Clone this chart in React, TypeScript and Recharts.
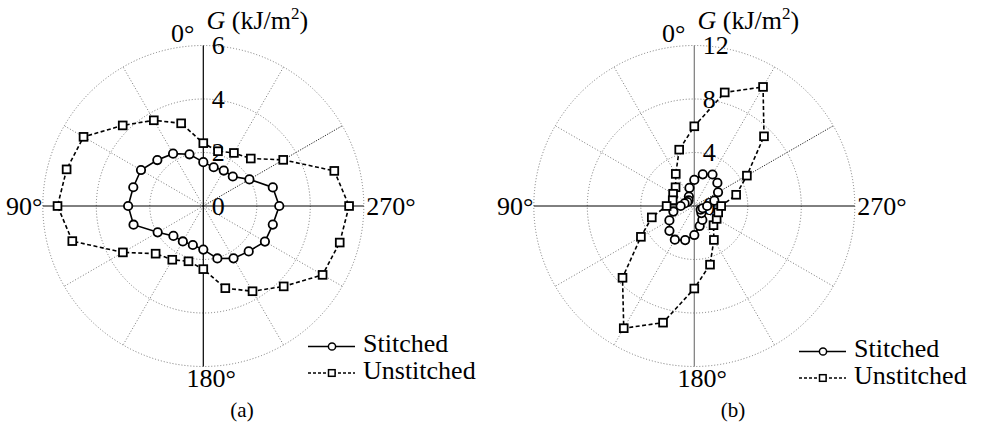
import {
  Legend,
  PolarAngleAxis,
  PolarGrid,
  PolarRadiusAxis,
  Radar,
  RadarChart,
} from "recharts";

// crack growth direction (deg), 0° at top, counter-clockwise
const angles = [0, 15, 30, 45, 60, 75, 90, 105, 120, 135, 150, 165, 180, 195, 210, 225, 240, 255, 270, 285, 300, 315, 330, 345];

// panel (a), G in kJ/m2
const stitchedA = [2.0, 2.26, 2.43, 2.69, 2.71, 2.81, 2.7, 1.97, 1.58, 1.53, 1.51, 1.63, 2.03, 2.26, 2.4, 2.66, 2.69, 2.84, 2.69, 1.99, 1.56, 1.53, 1.5, 1.64];
const unstitchedA = [3.2, 3.7, 4.26, 5.17, 5.29, 5.45, 5.07, 3.47, 2.52, 2.32, 2.14, 2.36, 3.18, 3.68, 4.25, 5.15, 5.28, 5.45, 5.07, 3.45, 2.51, 2.29, 2.12, 2.35];

// panel (b)
const stitchedB = [1.4, 0.81, 0.6, 0.6, 0.75, 1.02, 1.62, 2.15, 2.63, 2.91, 2.64, 2.17, 1.55, 1.2, 0.75, 0.55, 0.65, 0.96, 1.55, 2.05, 2.44, 2.72, 2.45, 1.95];
const unstitchedB = [4.36, 2.77, 1.98, 1.83, 1.67, 2.07, 3.29, 4.61, 7.59, 10.55, 9.03, 6.17, 4.54, 2.93, 2.03, 1.93, 1.85, 2.01, 3.24, 4.54, 7.37, 10.28, 8.79, 5.96];

const angleLabels = [0, 90, 180, 270];

const W = 491;
const H = 429;
const CX = 203.3;
const CY = 206;
const R = 160.5;
const FONT = "Liberation Serif, DejaVu Serif, serif";

// label placement around the circle, relative to the centre
const LABEL_POS: Record<number, { dx: number; dy: number; anchor: "start" | "middle" | "end" }> = {
  0: { dx: -9, dy: -164.5, anchor: "end" },
  90: { dx: -161, dy: 8.5, anchor: "end" },
  180: { dx: 8, dy: 181, anchor: "middle" },
  270: { dx: 163, dy: 8.5, anchor: "start" },
};

// recharts angles: 90 = top, counter-clockwise
const lightSpokes = [120, 150, 210, 240, 300, 330, 420];
const darkSpoke = [390];

const txt = { fontFamily: FONT };

function AngleTick(props: any) {
  const v = Number(props.payload?.value);
  const pos = LABEL_POS[v];
  if (!angleLabels.includes(v) || !pos) return <g />;
  return (
    <text x={CX + pos.dx} y={CY + pos.dy} textAnchor={pos.anchor} fontSize={26} style={txt} fill="#000">
      {v}°
    </text>
  );
}

function RadiusTick(props: any) {
  const { x, y, payload } = props;
  return (
    <text x={x + 8.5} y={y + 8.5} fontSize={26} style={txt} fill="#000">
      {payload.value}
    </text>
  );
}

function CircleDot(props: any) {
  const { cx, cy, index } = props;
  return <circle key={`c${index}`} cx={cx} cy={cy} r={4.2} fill="#fff" stroke="#000" strokeWidth={1.8} />;
}

function SquareDot(props: any) {
  const { cx, cy, index } = props;
  return <rect key={`s${index}`} x={cx - 3.9} y={cy - 3.9} width={7.8} height={7.8} fill="#fff" stroke="#000" strokeWidth={1.8} />;
}

function LegendBox({ payload }: any) {
  const items = payload ?? [];
  return (
    <svg width={180} height={56} style={{ overflow: "visible" }}>
      {items.map((p: any, i: number) => {
        const y = 13.5 + i * 26.5;
        const dashed = p.value === "Unstitched";
        return (
          <g key={p.value}>
            <line x1={0} y1={y} x2={47} y2={y} stroke="#000" strokeWidth={1.5} strokeDasharray={dashed ? "3 2" : undefined} />
            {dashed ? (
              <rect x={20.5} y={y - 3.3} width={6.6} height={6.6} fill="#fff" stroke="#000" strokeWidth={1.5} />
            ) : (
              <circle cx={24} cy={y} r={3.6} fill="#fff" stroke="#000" strokeWidth={1.5} />
            )}
            <text x={55} y={y + 5.5} fontSize={26} style={txt} fill="#000">
              {p.value}
            </text>
          </g>
        );
      })}
    </svg>
  );
}

interface PanelProps {
  left: number;
  caption: string;
  max: number;
  stitched: number[];
  unstitched: number[];
  vAxisColor: string;
  legendTop: number;
}

function Panel({ left, caption, max, stitched, unstitched, vAxisColor, legendTop }: PanelProps) {
  const rows = angles.map((a, i) => ({ angle: a, stitched: stitched[i], unstitched: unstitched[i] }));
  return (
    <div style={{ position: "absolute", left, top: 0, width: W, height: H }}>
      <RadarChart
        width={W}
        height={H}
        data={rows}
        cx={CX}
        cy={CY}
        outerRadius={R}
        startAngle={90}
        endAngle={450}
        margin={{ top: 0, right: 0, bottom: 0, left: 0 }}
      >
        <PolarGrid gridType="circle" polarAngles={lightSpokes} stroke="#777" strokeDasharray="1 2" strokeWidth={1} />
        <PolarGrid gridType="circle" polarAngles={darkSpoke} polarRadius={[]} stroke="#222" strokeDasharray="1.2 1.4" strokeWidth={1} />
        <PolarGrid gridType="circle" polarAngles={[180, 360]} polarRadius={[]} stroke="#000" strokeWidth={1} />
        <PolarGrid gridType="circle" polarAngles={[90, 270]} polarRadius={[]} stroke={vAxisColor} strokeWidth={1.2} />
        <PolarAngleAxis dataKey="angle" axisLine={false} tickLine={false} tick={<AngleTick />} />
        <PolarRadiusAxis
          angle={90}
          type="number"
          domain={[0, max]}
          tickCount={4}
          axisLine={false}
          tickLine={false}
          tick={<RadiusTick />}
        />
        <Radar
          name="Stitched"
          dataKey="stitched"
          stroke="#000"
          strokeWidth={1.6}
          fill="none"
          fillOpacity={0}
          dot={CircleDot}
          isAnimationActive={false}
        />
        <Radar
          name="Unstitched"
          dataKey="unstitched"
          stroke="#000"
          strokeWidth={1.6}
          strokeDasharray="4 2.5"
          fill="none"
          fillOpacity={0}
          dot={SquareDot}
          isAnimationActive={false}
        />
        <Legend
          content={<LegendBox />}
          wrapperStyle={{ position: "absolute", left: 308, top: legendTop, width: 180, height: 56 }}
        />
      </RadarChart>
      <svg width={W} height={H} style={{ position: "absolute", left: 0, top: 0, pointerEvents: "none", fontFamily: FONT }}>
        <text x={206.5} y={29} fontSize={26} fill="#000" style={txt}>
          <tspan fontStyle="italic">G</tspan>
          <tspan> (kJ/m</tspan>
          <tspan fontSize={17} dy={-10}>2</tspan>
          <tspan dy={10}>)</tspan>
        </text>
        <text x={242} y={417} fontSize={21} textAnchor="middle" fill="#000" style={txt}>
          {caption}
        </text>
      </svg>
    </div>
  );
}

export default function App() {
  return (
    <div style={{ position: "absolute", left: 0, top: 0, width: 982, height: 429, background: "#fff", fontFamily: FONT }}>
      <Panel left={0} caption="(a)" max={6} stitched={stitchedA} unstitched={unstitchedA} vAxisColor="#000" legendTop={333} />
      <Panel left={491} caption="(b)" max={12} stitched={stitchedB} unstitched={unstitchedB} vAxisColor="#7a7a7a" legendTop={338} />
    </div>
  );
}
